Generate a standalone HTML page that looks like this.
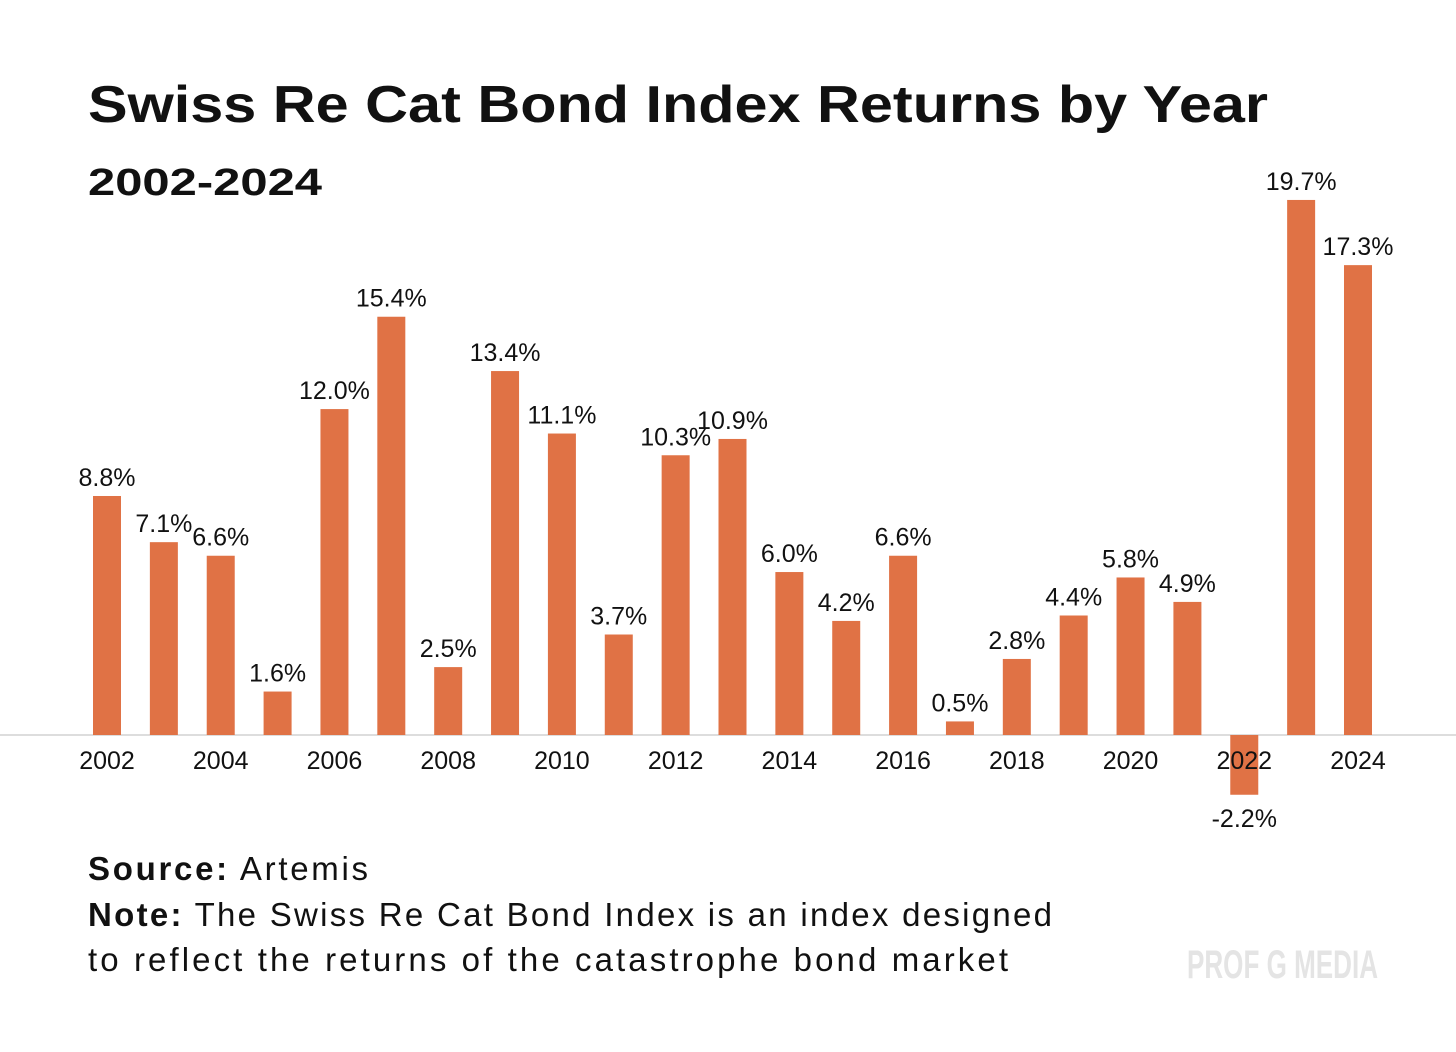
<!DOCTYPE html>
<html><head><meta charset="utf-8"><style>
body{margin:0;background:#fff;width:1456px;height:1047px;overflow:hidden;font-family:"Liberation Sans",sans-serif}
</style></head><body>
<svg width="1456" height="1047">
<text x="88" y="122" font-size="52" font-weight="bold" fill="#111" textLength="1180" lengthAdjust="spacingAndGlyphs">Swiss Re Cat Bond Index Returns by Year</text>
<text x="88" y="195" font-size="38" font-weight="bold" fill="#111" textLength="234" lengthAdjust="spacingAndGlyphs">2002-2024</text>
<line x1="0" x2="1456" y1="735" y2="735" stroke="#ddd" stroke-width="2"/>
<g id="bars"></g>
<text x="88" y="880" font-size="33" fill="#111" textLength="280" lengthAdjust="spacing"><tspan font-weight="bold">Source:</tspan> Artemis</text>
<text x="88" y="926" font-size="33" fill="#111" textLength="964" lengthAdjust="spacing"><tspan font-weight="bold">Note:</tspan> The Swiss Re Cat Bond Index is an index designed</text>
<text x="88" y="971" font-size="33" fill="#111" textLength="920" lengthAdjust="spacing">to reflect the returns of the catastrophe bond market</text>
<text x="1187" y="978" font-size="40" font-weight="bold" fill="#e4e4e4" textLength="191" lengthAdjust="spacingAndGlyphs">PROF G MEDIA</text>
</svg>
<script>
const years=[2002,2003,2004,2005,2006,2007,2008,2009,2010,2011,2012,2013,2014,2015,2016,2017,2018,2019,2020,2021,2022,2023,2024];
const values=[8.8,7.1,6.6,1.6,12.0,15.4,2.5,13.4,11.1,3.7,10.3,10.9,6.0,4.2,6.6,0.5,2.8,4.4,5.8,4.9,-2.2,19.7,17.3];
const xScale=i=>107+i*(1358-107)/22;
const yScale=v=>735-v*27.16;
const g=document.getElementById('bars');
const NS='http://www.w3.org/2000/svg';
years.forEach((yr,i)=>{
  const v=values[i],cx=xScale(i),y0=yScale(0),y1=yScale(v);
  const r=document.createElementNS(NS,'rect');
  r.setAttribute('x',cx-14);r.setAttribute('width',28);
  r.setAttribute('y',Math.min(y0,y1));r.setAttribute('height',Math.abs(y1-y0));
  r.setAttribute('fill','#e07245');
  
  
  g.appendChild(r);
  const t=document.createElementNS(NS,'text');
  t.setAttribute('x',cx);t.setAttribute('text-anchor','middle');
  t.setAttribute('font-size','25');t.setAttribute('fill','#111');
  t.setAttribute('y',v>=0?y1-10:y1+32);
  t.textContent=v.toFixed(1)+'%';
  
  
  g.appendChild(t);
  if(i%2===0){
    const l=document.createElementNS(NS,'text');
    l.setAttribute('x',cx);l.setAttribute('y',769);l.setAttribute('text-anchor','middle');
    l.setAttribute('font-size','25');l.setAttribute('fill','#111');
    l.textContent=yr;
    
    
    g.appendChild(l);
  }
});
</script>
</body></html>
